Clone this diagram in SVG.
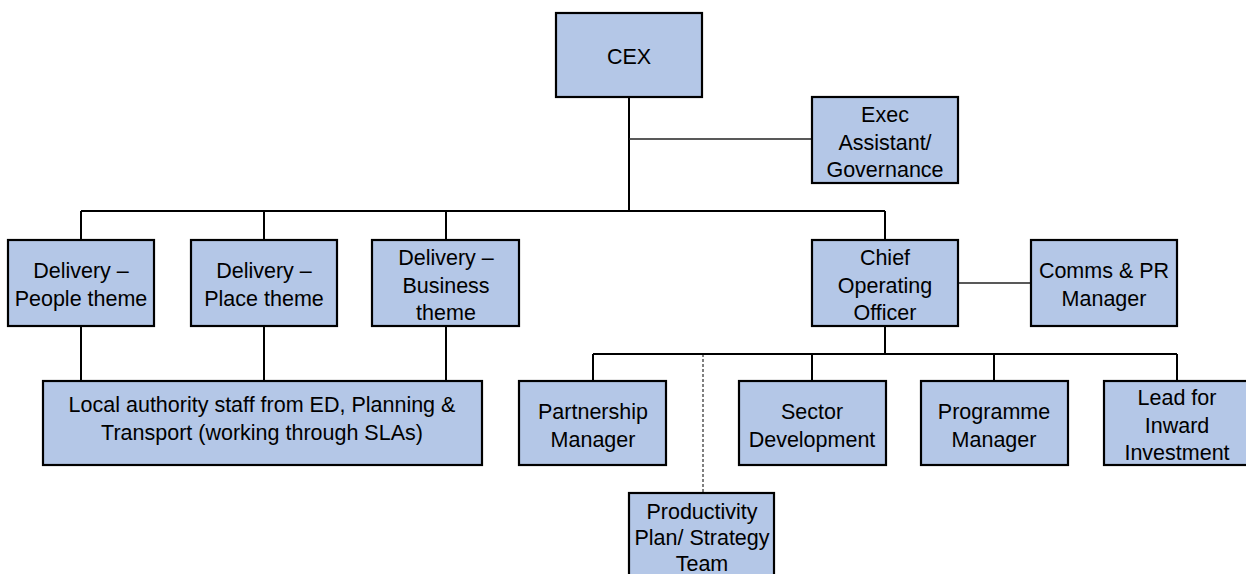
<svg xmlns="http://www.w3.org/2000/svg" width="1246" height="574" viewBox="0 0 1246 574">
<style>
.box{fill:#B4C7E7;stroke:#000;stroke-width:2.2}
.t{font-family:"Liberation Sans",Arial,sans-serif;font-size:21.5px;fill:#000;text-anchor:middle}
.c{stroke:#000;stroke-width:2;fill:none}
.s{stroke:#222;stroke-width:1.3;fill:none}
.d{stroke:#000;stroke-width:1;stroke-dasharray:3,2;fill:none}
</style>
<rect width="1246" height="574" fill="#fff"/>
<g id="connectors">
<path class="c" d="M629 97V211M81 211H885M81 211V240M264 211V240M446 211V240M885 211V240"/>
<path class="s" d="M629 139H812"/>
<path class="c" d="M81 326V381M264 326V381M446 326V381"/>
<path class="s" d="M958 283H1031"/>
<path class="c" d="M885 326V354M593 354H1177M593 354V381M812 354V381M994 354V381M1177 354V381"/>
<path class="d" d="M703 354V493"/>
</g>
<g id="cex"><rect class="box" x="556" y="13" width="146" height="84"/><text class="t" x="629" y="64">CEX</text></g>
<g id="exec"><rect class="box" x="812" y="97" width="146" height="86"/><text class="t" x="885" y="122">Exec</text><text class="t" x="885" y="150">Assistant/</text><text class="t" x="885" y="177">Governance</text></g>
<g id="people"><rect class="box" x="8" y="240" width="146" height="86"/><text class="t" x="81" y="278">Delivery –</text><text class="t" x="81" y="306">People theme</text></g>
<g id="place"><rect class="box" x="191" y="240" width="146" height="86"/><text class="t" x="264" y="278">Delivery –</text><text class="t" x="264" y="306">Place theme</text></g>
<g id="business"><rect class="box" x="372" y="240" width="147" height="86"/><text class="t" x="446" y="265">Delivery –</text><text class="t" x="446" y="293">Business</text><text class="t" x="446" y="320">theme</text></g>
<g id="coo"><rect class="box" x="812" y="240" width="146" height="86"/><text class="t" x="885" y="265">Chief</text><text class="t" x="885" y="293">Operating</text><text class="t" x="885" y="320">Officer</text></g>
<g id="comms"><rect class="box" x="1031" y="240" width="146" height="86"/><text class="t" x="1104" y="278">Comms &amp; PR</text><text class="t" x="1104" y="306">Manager</text></g>
<g id="local"><rect class="box" x="43" y="381" width="439" height="84"/><text class="t" x="262" y="412">Local authority staff from ED, Planning &amp;</text><text class="t" x="262" y="440">Transport (working through SLAs)</text></g>
<g id="partnership"><rect class="box" x="519" y="381" width="147" height="84"/><text class="t" x="593" y="419">Partnership</text><text class="t" x="593" y="447">Manager</text></g>
<g id="sector"><rect class="box" x="739" y="381" width="147" height="84"/><text class="t" x="812" y="419">Sector</text><text class="t" x="812" y="447">Development</text></g>
<g id="programme"><rect class="box" x="921" y="381" width="147" height="84"/><text class="t" x="994" y="419">Programme</text><text class="t" x="994" y="447">Manager</text></g>
<g id="lead"><rect class="box" x="1104" y="381" width="146" height="84"/><text class="t" x="1177" y="405">Lead for</text><text class="t" x="1177" y="433">Inward</text><text class="t" x="1177" y="460">Investment</text></g>
<g id="productivity"><rect class="box" x="629" y="493" width="145" height="90"/><text class="t" x="702" y="519">Productivity</text><text class="t" x="702" y="545">Plan/ Strategy</text><text class="t" x="702" y="571">Team</text></g>
</svg>
